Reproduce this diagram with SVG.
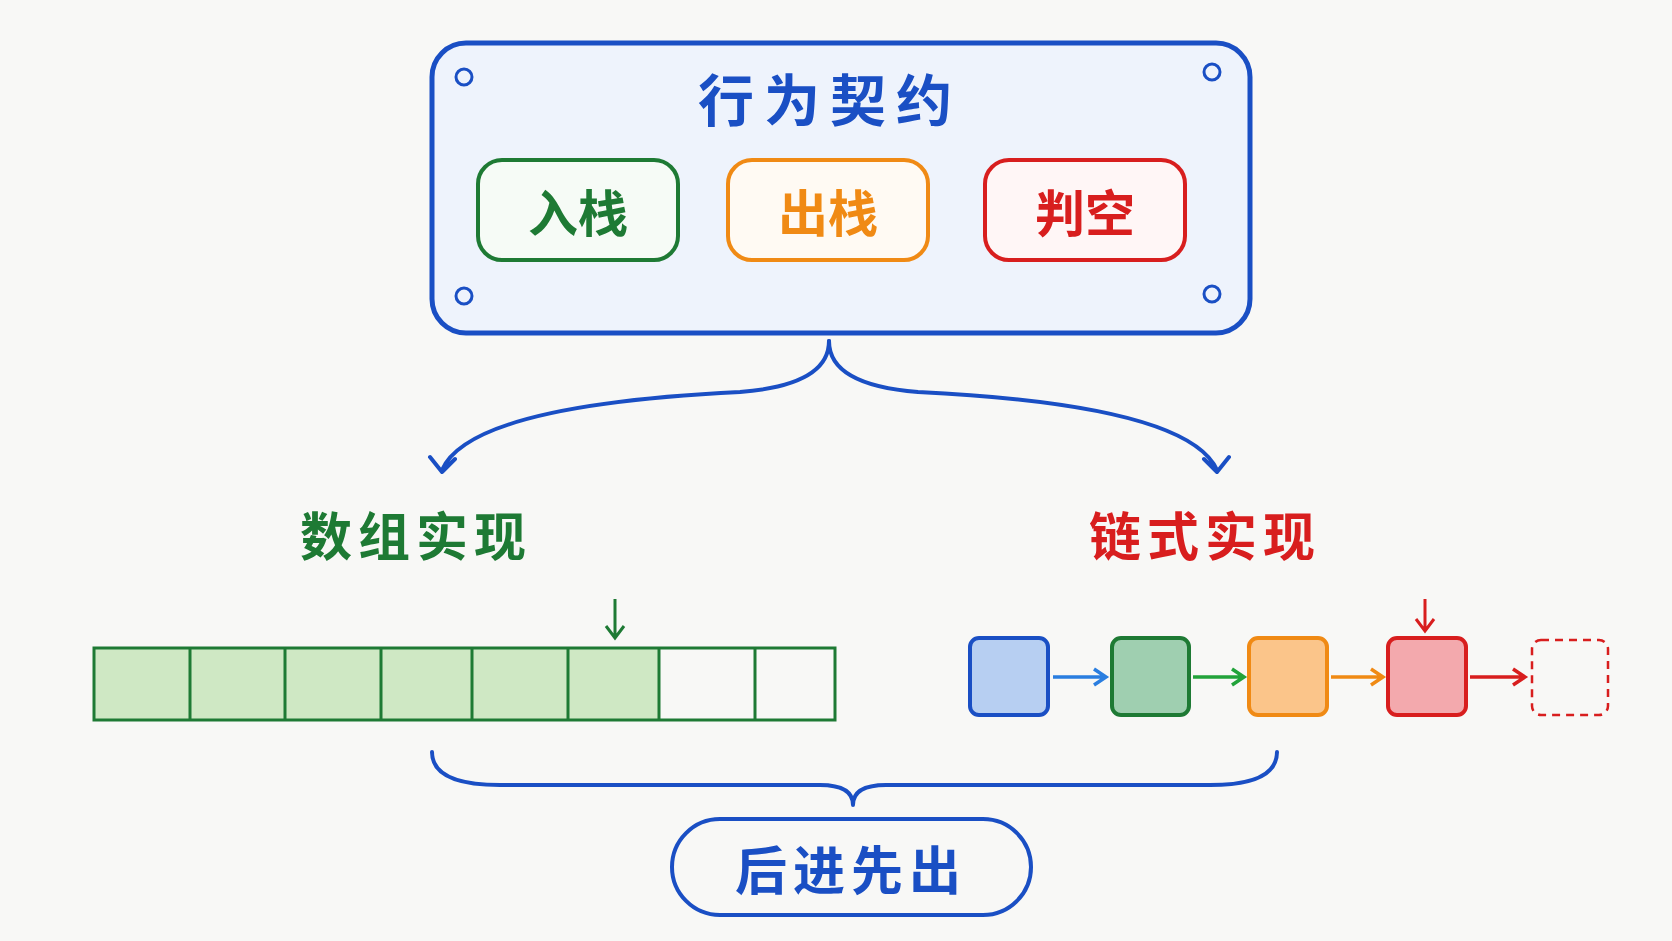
<svg xmlns="http://www.w3.org/2000/svg" width="1672" height="941" viewBox="0 0 1672 941">
<style>
text{font-family:"Noto Sans CJK SC","Noto Sans",sans-serif;font-weight:bold;text-anchor:middle;dominant-baseline:central}
.blue{stroke:#1a4fc4;fill:none;stroke-width:4;stroke-linecap:round;stroke-linejoin:round}
.cell{stroke:#1e7a34;stroke-width:3}
</style>
<rect width="1672" height="941" fill="#f8f8f6"/>
<g id="contract">
<rect x="432" y="43" width="818" height="290" rx="34" fill="#eef3fc" stroke="#1a4fc4" stroke-width="5"/>
<circle cx="464" cy="77" r="8" fill="none" stroke="#1a4fc4" stroke-width="3"/>
<circle cx="1212" cy="72" r="8" fill="none" stroke="#1a4fc4" stroke-width="3"/>
<circle cx="464" cy="296" r="8" fill="none" stroke="#1a4fc4" stroke-width="3"/>
<circle cx="1212" cy="294" r="8" fill="none" stroke="#1a4fc4" stroke-width="3"/>
<text x="830" y="96" font-size="56" fill="#1a4fc4" letter-spacing="10">行为契约</text>
</g>
<g id="push"><rect x="478" y="160" width="200" height="100" rx="24" fill="#f6fbf6" stroke="#1e7a34" stroke-width="4"/><text x="578" y="210" font-size="50" fill="#1e7a34">入栈</text></g>
<g id="pop"><rect x="728" y="160" width="200" height="100" rx="24" fill="#fffaf3" stroke="#f08a14" stroke-width="4"/><text x="828" y="210" font-size="50" fill="#f08a14">出栈</text></g>
<g id="empty"><rect x="985" y="160" width="200" height="100" rx="24" fill="#fff6f6" stroke="#d81e1e" stroke-width="4"/><text x="1085" y="210" font-size="50" fill="#d81e1e">判空</text></g>
<g id="connectors">
<path class="blue" d="M829,341 Q829,385 740,392 Q470,405 442,470 M430,457 L442,472 L455,459"/>
<path class="blue" d="M829,341 Q829,385 918,392 Q1188,405 1217,470 M1204,459 L1217,472 L1229,457"/>
<path class="blue" d="M432,752 Q432,785 500,785 L820,785 Q853,785 853,805 Q853,785 886,785 L1210,785 Q1277,785 1277,752"/>
<path d="M615,599 L615,636 M606,626 L615,638 L624,626" fill="none" stroke="#1e7a34" stroke-width="3"/>
<path d="M1425,599 L1425,629 M1416,619 L1425,631 L1434,619" fill="none" stroke="#d81e1e" stroke-width="3"/>
<path d="M1053,677 L1105,677 M1094,669 L1106,677 L1094,685" fill="none" stroke="#2a7ee0" stroke-width="3.5"/>
<path d="M1193,677 L1243,677 M1232,669 L1244,677 L1232,685" fill="none" stroke="#22a33a" stroke-width="3.5"/>
<path d="M1331,677 L1382,677 M1371,669 L1383,677 L1371,685" fill="none" stroke="#f08a14" stroke-width="3.5"/>
<path d="M1470,677 L1524,677 M1513,669 L1525,677 L1513,685" fill="none" stroke="#d81e1e" stroke-width="3.5"/>
</g>
<g id="array-label"><text x="416" y="533" font-size="52" fill="#1e7a34" letter-spacing="6">数组实现</text></g>
<g id="linked-label"><text x="1205" y="533" font-size="52" fill="#d81e1e" letter-spacing="6">链式实现</text></g>
<g id="array">
<rect x="94" y="648" width="565" height="72" fill="#cfe8c4"/>
<rect x="94" y="648" width="741" height="72" fill="none" class="cell"/>
<path class="cell" d="M190,648V720M285,648V720M381,648V720M472,648V720M568,648V720M659,648V720M755,648V720"/>
</g>
<g id="linked">
<rect x="970" y="638" width="78" height="77" rx="9" fill="#b7cff2" stroke="#1a4fc4" stroke-width="4"/>
<rect x="1112" y="638" width="77" height="77" rx="9" fill="#9fcfb0" stroke="#1e7a34" stroke-width="4"/>
<rect x="1249" y="638" width="78" height="77" rx="9" fill="#fbc58a" stroke="#f08a14" stroke-width="4"/>
<rect x="1388" y="638" width="78" height="77" rx="9" fill="#f3a9ad" stroke="#d81e1e" stroke-width="4"/>
<rect x="1532" y="640" width="76" height="75" rx="9" fill="none" stroke="#d81e1e" stroke-width="2.5" stroke-dasharray="8 6"/>
</g>
<g id="lifo">
<rect x="672" y="819" width="359" height="96" rx="48" fill="#f8f8f6" stroke="#1a4fc4" stroke-width="4"/>
<text x="851" y="867" font-size="52" fill="#1a4fc4" letter-spacing="6">后进先出</text>
</g>
</svg>
